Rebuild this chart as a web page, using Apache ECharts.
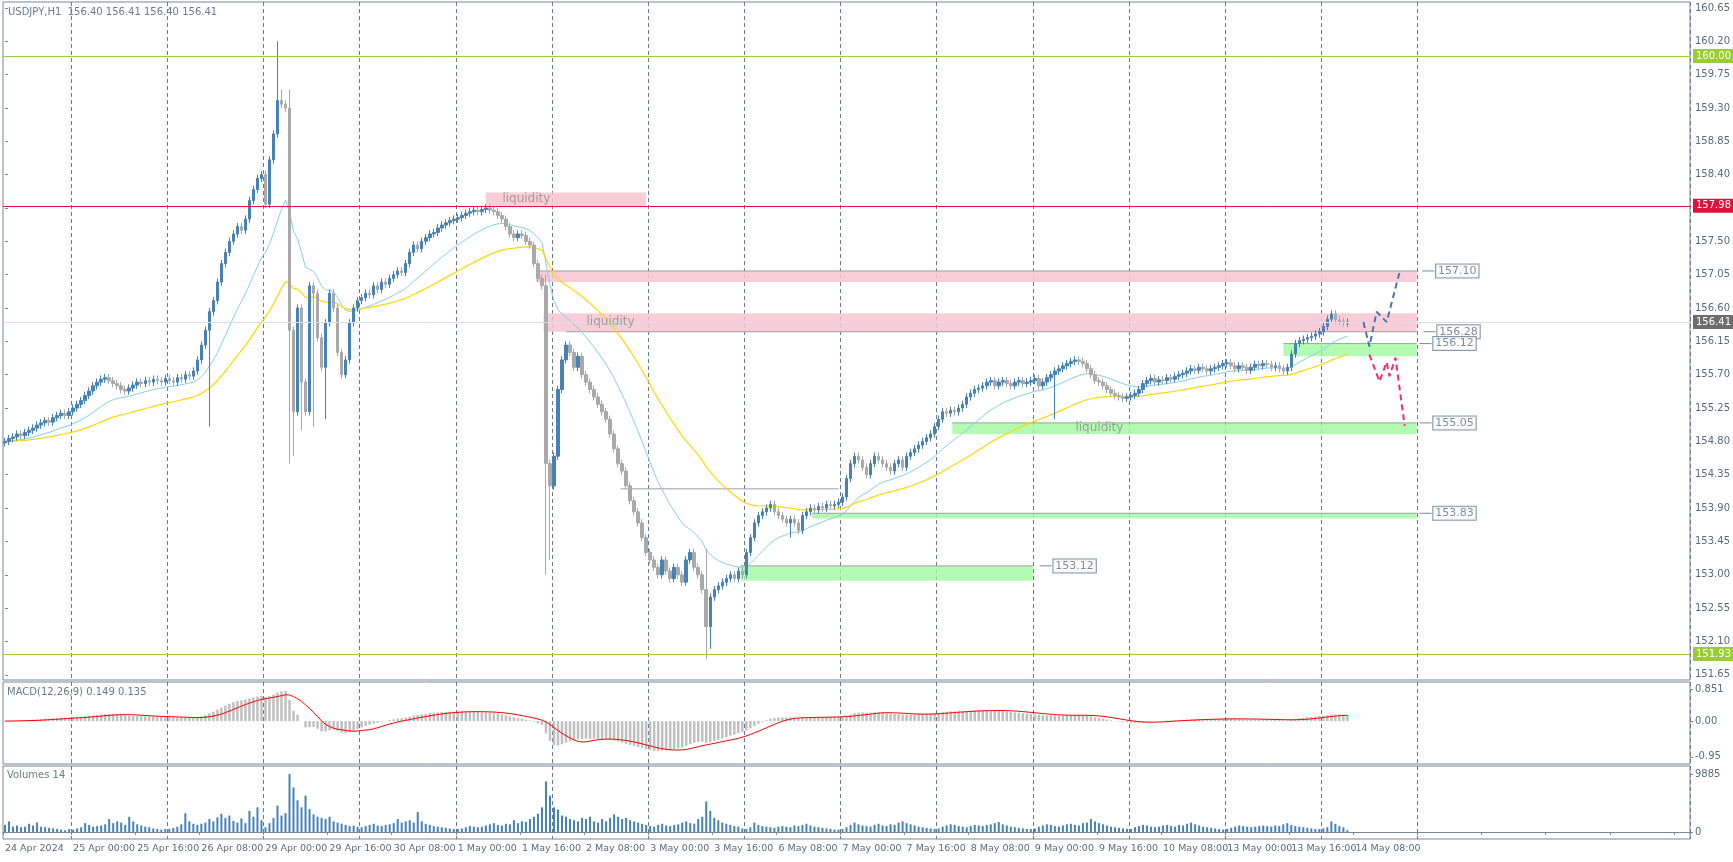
<!DOCTYPE html>
<html><head><meta charset="utf-8">
<script src="https://cdn.jsdelivr.net/npm/echarts@6/dist/echarts.min.js"></script>
<style>html,body{margin:0;padding:0;background:#fff}#c{width:1733px;height:862px}</style>
</head><body><div id="c"></div>
<script>
// ---------- DATA ----------
const closes = [
// 24 Apr (07:00-23:00)
154.80,154.84,154.86,154.90,154.88,154.92,154.95,154.98,155.02,155.05,155.08,155.06,155.12,155.15,155.18,155.15,155.20,
// 25 Apr
155.25,155.30,155.35,155.42,155.48,155.55,155.60,155.64,155.66,155.62,155.58,155.55,155.50,155.48,155.52,155.56,155.60,155.58,155.62,155.60,155.64,155.62,155.60,155.65,
// 26 Apr
155.62,155.60,155.66,155.64,155.70,155.68,155.75,155.90,156.10,156.30,156.55,156.70,156.95,157.20,157.35,157.50,157.60,157.70,157.65,157.80,158.05,158.20,158.35,158.40,
// 29 Apr
158.00,158.60,158.95,159.40,159.35,159.30,156.30,155.20,156.60,155.60,155.20,156.90,156.80,156.20,155.80,156.40,156.80,156.60,156.00,155.70,155.90,156.40,156.60,156.70,
// 30 Apr
156.74,156.80,156.78,156.90,156.85,156.95,156.92,157.00,157.05,157.10,157.08,157.20,157.35,157.45,157.40,157.50,157.55,157.60,157.62,157.68,157.72,157.75,157.78,157.80,
// 1 May
157.82,157.85,157.88,157.90,157.92,157.90,157.93,157.95,157.92,157.90,157.85,157.80,157.70,157.60,157.55,157.60,157.58,157.50,157.45,157.20,157.00,156.90,154.50,154.20,
// 2 May
154.60,155.50,155.90,156.10,156.00,155.80,155.95,155.70,155.60,155.50,155.40,155.30,155.20,155.10,154.90,154.70,154.50,154.40,154.20,154.00,153.85,153.70,153.50,153.30,
// 3 May
153.20,153.10,153.00,153.20,153.05,152.95,153.10,153.00,152.90,153.20,153.30,153.10,153.00,152.80,152.30,152.70,152.80,152.85,152.90,152.95,153.00,152.95,153.05,153.00,
// 6 May
153.30,153.50,153.70,153.80,153.85,153.90,153.95,153.85,153.80,153.75,153.70,153.75,153.70,153.60,153.80,153.85,153.90,153.88,153.92,153.90,153.95,153.93,153.95,153.98,
// 7 May
154.05,154.30,154.50,154.60,154.55,154.45,154.35,154.50,154.60,154.55,154.50,154.45,154.40,154.50,154.55,154.45,154.60,154.65,154.70,154.75,154.80,154.85,154.90,155.00,
// 8 May
155.10,155.20,155.18,155.22,155.20,155.25,155.30,155.40,155.45,155.50,155.52,155.55,155.60,155.62,155.55,155.60,155.62,155.58,155.55,155.60,155.62,155.58,155.60,155.62,
// 9 May
155.65,155.55,155.60,155.66,155.70,155.75,155.78,155.82,155.85,155.88,155.90,155.88,155.85,155.78,155.70,155.62,155.60,155.55,155.50,155.45,155.42,155.40,155.38,155.40,
// 10 May
155.42,155.45,155.50,155.58,155.62,155.65,155.60,155.63,155.62,155.66,155.64,155.68,155.70,155.72,155.75,155.78,155.76,155.80,155.78,155.75,155.78,155.80,155.82,155.85,
// 13 May
155.86,155.82,155.78,155.82,155.80,155.76,155.80,155.84,155.82,155.85,155.84,155.80,155.82,155.78,155.75,155.80,155.98,156.12,156.16,156.18,156.20,156.22,156.25,156.28,
// 14 May
156.35,156.45,156.52,156.44,156.42,156.40,156.41
];
const firstOpen = 154.78;
const wick = 0.05;
// explicit high/low for bars with long shadows: index -> [high, low]
const shadows = {51:[null,155.0],68:[160.20,null],69:[159.55,null],71:[159.55,154.50],72:[null,154.6],74:[null,154.95],77:[null,155.0],80:[null,155.1],
  135:[157.05,153.0],136:[null,153.2],175:[153.35,151.86],176:[null,152.0],196:[null,153.5],262:[null,155.1]};

const volumes = [
1200,1800,900,1100,800,900,1400,1100,1600,900,800,700,600,500,400,300,500,
400,600,800,1500,1200,900,1000,1100,1300,2200,1500,1800,1600,1200,2600,1800,1300,1100,900,800,600,500,400,500,
500,700,900,1300,3200,1800,1400,1200,1400,1600,2200,1800,2500,3100,2400,2800,1900,1600,2300,1500,3600,2600,4200,2000,
800,1500,2400,4500,2800,3200,9885,7600,5400,4200,6200,3900,3000,2600,2400,2200,2600,1800,1600,1400,1200,1000,1100,900,
800,1000,1200,1400,1100,1000,1200,1300,1500,2200,1600,1800,2000,1600,3400,1800,1400,1200,1000,900,800,700,600,500,
500,600,800,1000,900,800,900,1100,1300,1500,1200,1100,1400,1300,2000,1500,1800,1700,2200,2600,3100,4200,8600,6200,
4200,3800,2800,2600,2200,2000,1800,2400,2200,2600,1800,1600,2200,1800,2400,3000,2600,2200,2400,2000,1800,1600,1400,1200,
1000,900,1200,1400,1100,1000,1200,1300,1600,1800,1500,1400,2200,2600,5200,3600,2400,2000,1600,1400,1200,1000,900,600,
500,800,1600,1200,1000,900,800,700,900,1000,900,800,1100,1000,1200,1400,1100,900,800,700,600,500,400,400,
500,800,1200,1600,1300,1100,1000,900,1200,1400,1100,1000,1300,1200,1600,1800,1500,1300,1100,900,800,700,600,500,
600,900,1100,1300,1200,1000,900,800,1000,1200,1100,1000,1200,1300,1500,1700,1300,1100,900,800,700,600,500,500,
600,900,1100,1300,1200,1000,900,1100,1300,1400,1200,1100,1500,1600,2200,1800,1500,1300,1100,900,800,700,600,500,
500,800,1000,1200,1100,900,800,900,1100,1200,1000,900,1200,1100,1400,1600,1300,1100,900,800,700,600,500,400,
500,700,900,1100,1000,900,800,900,1000,1100,1000,900,1100,1000,1300,1500,1200,1000,900,800,700,600,500,500,
600,800,1800,1400,1000,800,300
];

const totalBars = 421;
const lastGridBar = 353;
const xLabels = ["24 Apr 2024","25 Apr 00:00","25 Apr 16:00","26 Apr 08:00","29 Apr 00:00","29 Apr 16:00","30 Apr 08:00","1 May 00:00","1 May 16:00","2 May 08:00","3 May 00:00","3 May 16:00","6 May 08:00","7 May 00:00","7 May 16:00","8 May 08:00","9 May 00:00","9 May 16:00","10 May 08:00","13 May 00:00","13 May 16:00","14 May 08:00"];
const firstDayBar = 17, labelStep = 16, dayBars = 24;
const priceTicks = [160.65,160.20,159.75,159.30,158.85,158.40,157.95,157.50,157.05,156.60,156.15,155.70,155.25,154.80,154.35,153.90,153.45,153.00,152.55,152.10,151.65];
const hLines = [{v:160.00,c:'#9acd32'},{v:157.98,c:'#dc143c'},{v:151.93,c:'#9acd32'}];
const lastPrice = 156.41;
// zones: [x1, x2, low, high, color]
const zones = [
 [120,160,157.98,158.16,'pink'],
 [132.5,352.3,156.95,157.10,'pink'],
 [134.4,352.3,156.28,156.53,'pink'],
 [319,352.3,155.95,156.12,'green'],
 [236.4,352.3,154.90,155.05,'green'],
 [201.4,352.3,153.76,153.83,'green'],
 [183.5,256.5,152.92,153.12,'green']
];
const grayLines = [[132.5,352.3,157.10],[140,352.3,156.28],[319,352.3,156.12],[236.4,352.3,155.05],[201.4,352.3,153.83],[183.5,256.5,153.12],[153.6,208,154.16]];
const priceTags = [[357,157.10],[357.3,156.28],[356.3,156.12],[356.3,155.05],[356.3,153.83],[261.5,153.12]];
const liqTexts = [[124,158.07],[145,156.41],[267,154.98]];
const bluePath = [[339,156.41],[340.5,156.08],[342.3,156.55],[344.8,156.41],[348,157.08]];
const redPath = [[340.5,155.97],[343,155.61],[344.8,155.87],[345.5,155.68],[347,155.93],[349.3,155.01]];

// ---------- BUILD ----------
const ohlc = closes.map((c,i)=>{
  const o = i===0?firstOpen:closes[i-1];
  let h = Math.max(o,c)+wick, l = Math.min(o,c)-wick;
  const s = shadows[i];
  if(s){ if(s[0]!=null) h=s[0]; if(s[1]!=null) l=s[1]; }
  return [o,c,l,h];
});
const cats = Array.from({length:totalBars},(_,i)=>i);
function ema(arr,n){const k=2/(n+1);let out=[],p=arr[0];arr.forEach((v,i)=>{p=i===0?v:v*k+p*(1-k);out.push(+p.toFixed(4));});return out;}
function sma(arr,n){return arr.map((v,i)=>{const s=arr.slice(Math.max(0,i-n+1),i+1);return s.reduce((a,b)=>a+b,0)/s.length;});}
const ma1 = ema(closes,20), ma2 = ema(closes,50);
const e12=ema(closes,12), e26=ema(closes,26);
const macd = e12.map((v,i)=>+(v-e26[i]).toFixed(4));
const signal = sma(macd,9);

const FONT = 'DejaVu Sans';
const axisTxt = '#5b6b7b';
const border = '#7a8796';
const isLabel = i => i===0 || (i>=firstDayBar && (i-firstDayBar)%labelStep===0);
const isDay = i => i>=firstDayBar && i<=lastGridBar && (i-firstDayBar)%dayBars===0;
const grids = [
 {left:3,right:43,top:2,height:678},
 {left:3,right:43,top:682,height:82},
 {left:3,right:43,top:766,height:73}
];
function catAxis(gi,showLabels){
  return {type:'category',gridIndex:gi,data:cats,boundaryGap:true,
    axisLine:{show:showLabels,lineStyle:{color:border}},
    axisTick:{show:showLabels,interval:(i)=>isLabel(i),length:3,lineStyle:{color:border}},
    axisLabel:{show:showLabels,interval:(i)=>isLabel(i),align:'left',margin:5,color:axisTxt,fontFamily:FONT,fontSize:9.5,
      formatter:(v,i)=>{const k = i===0?0:(i-firstDayBar)/labelStep+1; return xLabels[k]||'';}},
    splitLine:{show:true,interval:(i)=>isDay(i),lineStyle:{color:'#6e7a87',type:[4,3],width:1}}};
}
const xAxes=[catAxis(0,false),catAxis(1,false),catAxis(2,true),
 {type:'value',gridIndex:0,min:-0.5,max:totalBars-0.5,show:false}];
const yAxes=[
 {type:'value',gridIndex:0,position:'right',min:151.58,max:160.73,scale:true,splitLine:{show:false},
  axisLine:{show:false},axisTick:{show:true,length:3,customValues:priceTicks,lineStyle:{color:border}},
  axisLabel:{customValues:priceTicks,color:axisTxt,fontFamily:FONT,fontSize:10,margin:5,formatter:v=>v.toFixed(2)}},
 {type:'value',gridIndex:1,position:'right',min:-1.14,max:1.04,splitLine:{show:false},axisLine:{show:false},
  axisTick:{show:true,length:3,customValues:[0.851,0,-0.95],lineStyle:{color:border}},
  axisLabel:{customValues:[0.851,0,-0.95],color:axisTxt,fontFamily:FONT,fontSize:10,margin:5,formatter:v=>v===0?'0.00':(v===0.851?'0.851':'-0.95')}},
 {type:'value',gridIndex:2,position:'right',min:-1200,max:11250,splitLine:{show:false},axisLine:{show:false},
  axisTick:{show:true,length:3,customValues:[0,9885],lineStyle:{color:border}},
  axisLabel:{customValues:[0,9885],color:axisTxt,fontFamily:FONT,fontSize:10,margin:5,formatter:v=>String(Math.round(v))}}
];
const zoneColor={pink:'rgba(248,196,208,0.85)',green:'rgba(160,250,160,0.8)'};
const series=[];
series.push({type:'line',xAxisIndex:3,yAxisIndex:0,data:[],silent:true,
  markArea:{silent:true,data:zones.map(z=>[{coord:[z[0],z[3]],itemStyle:{color:zoneColor[z[4]]}},{coord:[z[1],z[2]]}])}});
grayLines.forEach(g=>series.push({type:'line',xAxisIndex:3,yAxisIndex:0,symbol:'none',silent:true,
  data:[[g[0],g[2]],[g[1],g[2]]],lineStyle:{color:'#a0a0a0',width:1}}));
series.push({type:'line',xAxisIndex:0,yAxisIndex:0,data:ma1,symbol:'none',lineStyle:{color:'#87ceeb',width:1},z:3});
series.push({type:'line',xAxisIndex:0,yAxisIndex:0,data:ma2,symbol:'none',lineStyle:{color:'#ffd700',width:1.2},z:3});
series.push({type:'candlestick',xAxisIndex:0,yAxisIndex:0,data:ohlc,barWidth:'75%',z:4,
  itemStyle:{color:'#4682b4',color0:'#a9a9a9',borderColor:'#4682b4',borderColor0:'#a9a9a9',borderWidth:1},
  markLine:{symbol:'none',silent:true,animation:false,
    data:[{yAxis:lastPrice,lineStyle:{color:'#dcdcf0',type:'solid',width:1},label:{show:true,position:'end',distance:3,formatter:lastPrice.toFixed(2),backgroundColor:'#6d6d6d',color:'#fff',padding:[2,3],fontFamily:FONT,fontSize:10}}]
      .concat(hLines.map(h=>({yAxis:h.v,lineStyle:{color:h.c,type:'solid',width:1},label:{show:true,position:'end',distance:3,formatter:h.v.toFixed(2),backgroundColor:h.c,color:'#fff',padding:[2,3],fontFamily:FONT,fontSize:10}})))}});
priceTags.forEach(t=>{
  series.push({type:'line',xAxisIndex:3,yAxisIndex:0,symbol:'none',silent:true,data:[[t[0]-3.3,t[1]],[t[0]-0.3,t[1]]],lineStyle:{color:'#7a8a99',width:1}});
});
series.push({type:'scatter',xAxisIndex:3,yAxisIndex:0,symbolSize:1,itemStyle:{color:'rgba(0,0,0,0)'},data:priceTags,z:6,
  label:{show:true,position:'right',distance:0,formatter:p=>p.value[1].toFixed(2),backgroundColor:'#fff',borderColor:'#6f7f8f',borderWidth:1,padding:[1,2],color:'#5f7080',fontFamily:FONT,fontSize:11}});
series.push({type:'scatter',xAxisIndex:3,yAxisIndex:0,symbolSize:1,itemStyle:{color:'rgba(0,0,0,0)'},data:liqTexts,z:6,
  label:{show:true,position:'right',distance:0,formatter:'liquidity',color:'#8e8e8e',fontFamily:FONT,fontSize:12}});
series.push({type:'line',xAxisIndex:3,yAxisIndex:0,symbol:'none',data:bluePath,z:7,lineStyle:{color:'#4f74ad',width:2,type:[6,4]}});
series.push({type:'line',xAxisIndex:3,yAxisIndex:0,symbol:'none',data:redPath,z:7,lineStyle:{color:'#f0306e',width:2,type:[6,4]}});
series.push({type:'bar',xAxisIndex:1,yAxisIndex:1,data:macd,barWidth:2.5,itemStyle:{color:'#c0c0c0'}});
series.push({type:'line',xAxisIndex:1,yAxisIndex:1,data:signal,symbol:'none',lineStyle:{color:'#ff0000',width:1}});
series.push({type:'bar',xAxisIndex:2,yAxisIndex:2,data:volumes,barWidth:2,itemStyle:{color:'#4682b4'}});

const chart=echarts.init(document.getElementById('c'),null,{renderer:'canvas'});
chart.setOption({animation:false,backgroundColor:'#fff',
  grid:grids.map(g=>Object.assign({show:true,borderColor:border,borderWidth:1},g)),
  xAxis:xAxes,yAxis:yAxes,series:series,
  graphic:[
    {type:'text',left:8,top:7,style:{text:'USDJPY,H1  156.40 156.41 156.40 156.41',fill:'#6a7a8a',font:'10px DejaVu Sans'}},
    {type:'text',left:7,top:687,style:{text:'MACD(12,26,9) 0.149 0.135',fill:'#6a7a8a',font:'10px DejaVu Sans'}},
    {type:'text',left:7,top:770,style:{text:'Volumes 14',fill:'#6a7a8a',font:'10px DejaVu Sans'}}
  ]});
</script></body></html>
